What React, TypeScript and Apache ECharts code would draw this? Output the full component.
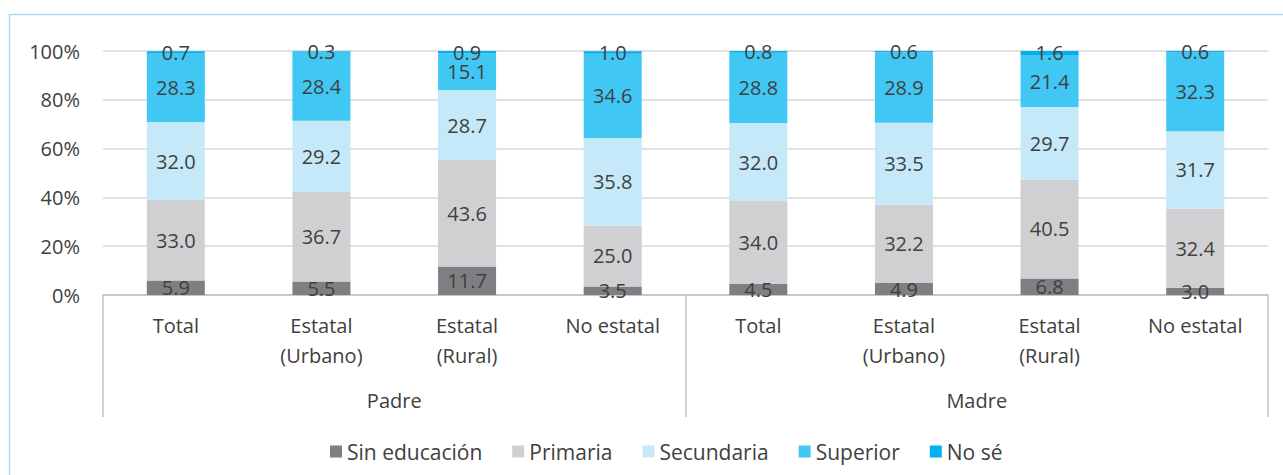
import React, { useEffect, useRef } from "react";
import * as echarts from "echarts";

const categories = [
  "Total",
  "Estatal\n(Urbano)",
  "Estatal\n(Rural)",
  "No estatal",
  "Total",
  "Estatal\n(Urbano)",
  "Estatal\n(Rural)",
  "No estatal",
];
const groups = ["Padre", "Madre"];
const yTicks = [0, 20, 40, 60, 80, 100];

const seriesNames = ["Sin educación", "Primaria", "Secundaria", "Superior", "No sé"];
const sinEducacion = [5.9, 5.5, 11.7, 3.5, 4.5, 4.9, 6.8, 3.0];
const primaria = [33.0, 36.7, 43.6, 25.0, 34.0, 32.2, 40.5, 32.4];
const secundaria = [32.0, 29.2, 28.7, 35.8, 32.0, 33.5, 29.7, 31.7];
const superior = [28.3, 28.4, 15.1, 34.6, 28.8, 28.9, 21.4, 32.3];
const noSe = [0.7, 0.3, 0.9, 1.0, 0.8, 0.6, 1.6, 0.6];

const seriesData = [sinEducacion, primaria, secundaria, superior, noSe];
const colors = ["#7f7f83", "#d0d0d2", "#c6e9f9", "#40c7f4", "#00b0f0"];

const FONT = "'Open Sans', sans-serif";
const TXT = "#404040";

export default function App() {
  const ref = useRef<HTMLDivElement>(null);
  useEffect(() => {
    if (!ref.current) return;
    const chart = echarts.init(ref.current, null, { renderer: "svg" });
    chart.setOption({
      animation: false,
      backgroundColor: "#ffffff",
      textStyle: { fontFamily: FONT },
      graphic: [
        {
          type: "rect",
          shape: { x: 9.5, y: 14.5, width: 1400, height: 600 },
          style: { fill: "none", stroke: "#a9dcf4", lineWidth: 1.5 },
          z: -1,
        },
      ],
      grid: { left: 103, right: 15, top: 51, bottom: 180, containLabel: false },
      legend: {
        left: 325,
        top: 436,
        icon: "rect",
        itemWidth: 12,
        itemHeight: 12,
        itemGap: 30,
        textStyle: { fontSize: 21, color: TXT, fontFamily: FONT },
        data: seriesNames,
      },
      xAxis: [
        {
          type: "category",
          data: categories,
          position: "bottom",
          axisLine: { show: true, lineStyle: { color: "#bfbfbf", width: 1.5 } },
          axisTick: { show: false },
          axisLabel: {
            interval: 0,
            fontSize: 20,
            lineHeight: 30,
            color: TXT,
            margin: 15,
            fontFamily: FONT,
          },
        },
        {
          type: "category",
          data: groups,
          position: "bottom",
          axisLine: { show: false },
          axisTick: {
            show: true,
            interval: 0,
            alignWithLabel: false,
            length: 122,
            lineStyle: { color: "#bfbfbf", width: 1.5 },
          },
          axisLabel: {
            interval: 0,
            fontSize: 20,
            lineHeight: 20,
            color: TXT,
            margin: 95,
            fontFamily: FONT,
          },
          splitLine: { show: false },
        },
      ],
      yAxis: {
        type: "value",
        min: yTicks[0],
        max: yTicks[yTicks.length - 1],
        interval: 20,
        axisLine: { show: false },
        axisTick: { show: false },
        splitLine: { lineStyle: { color: "#d9d9d9", width: 1.5 } },
        axisLabel: {
          formatter: "{value}%",
          fontSize: 20,
          color: TXT,
          margin: 23,
          fontFamily: FONT,
        },
      },
      series: seriesNames.map((name, i) => ({
        name,
        type: "bar",
        stack: "total",
        xAxisIndex: 0,
        barWidth: 58,
        data: seriesData[i],
        itemStyle: { color: colors[i] },
        label: {
          show: true,
          position: "inside",
          formatter: (p: any) => Number(p.value).toFixed(1),
          fontSize: 20,
          color: TXT,
          fontFamily: FONT,
        },
      })),
    });
    return () => chart.dispose();
  }, []);
  return (
    <div
      ref={ref}
      style={{ position: "absolute", left: 0, top: 0, width: 1283, height: 475 }}
    />
  );
}
